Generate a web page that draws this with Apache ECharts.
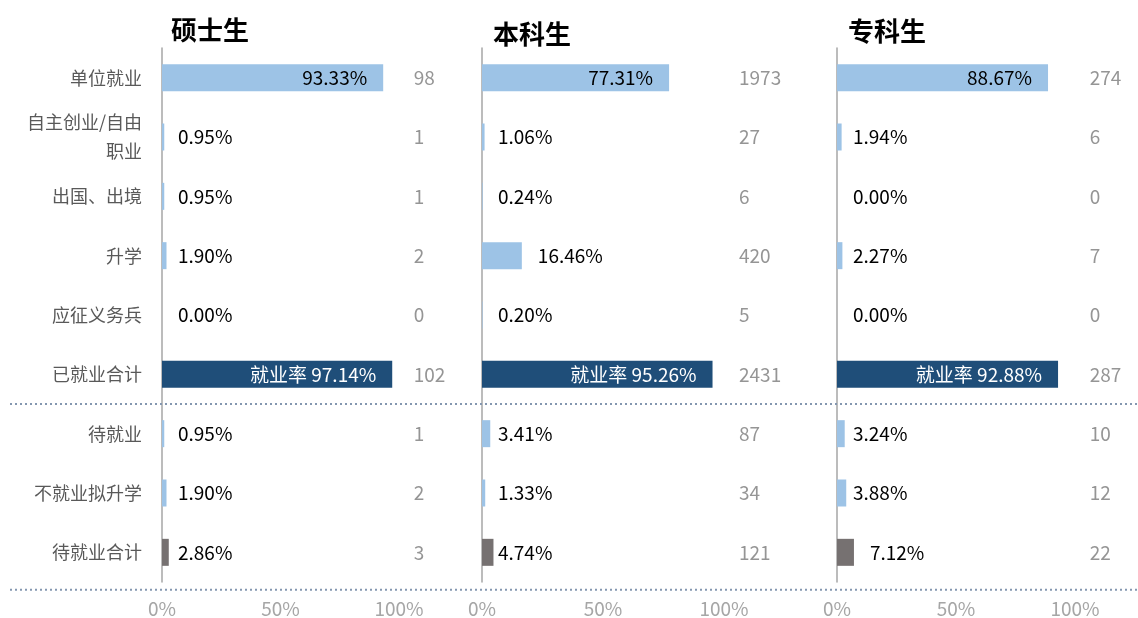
<!DOCTYPE html>
<html><head><meta charset="utf-8">
<script src="https://cdn.jsdelivr.net/npm/echarts@6/dist/echarts.min.js"></script>
<style>html,body{margin:0;padding:0;background:#fff}#c{width:1138px;height:618px}</style>
</head><body><div id="c"></div>
<script>
const categories = ['单位就业','自主创业/自由\n职业','出国、出境','升学','应征义务兵','已就业合计','待就业','不就业拟升学','待就业合计'];
const panelTitles = ['硕士生','本科生','专科生'];
const masterPct = [93.33,0.95,0.95,1.90,0.00,97.14,0.95,1.90,2.86];
const masterCnt = [98,1,1,2,0,102,1,2,3];
const bachelorPct = [77.31,1.06,0.24,16.46,0.20,95.26,3.41,1.33,4.74];
const bachelorCnt = [1973,27,6,420,5,2431,87,34,121];
const collegePct = [88.67,1.94,0.00,2.27,0.00,92.88,3.24,3.88,7.12];
const collegeCnt = [274,6,0,7,0,287,10,12,22];
const xTicks = [0,50,100];

const FONT = '"Noto Sans CJK SC","Noto Sans",sans-serif';
const LIGHT = '#9DC3E6', NAVY = '#1F4E79', GRAY = '#767171';
const panels = [
  {pct: masterPct, cnt: masterCnt, left: 162, scale: 2.37, titleLeft: 166, titleTop: 12},
  {pct: bachelorPct, cnt: bachelorCnt, left: 482, scale: 2.42, titleLeft: 488, titleTop: 16},
  {pct: collegePct, cnt: collegeCnt, left: 837, scale: 2.38, titleLeft: 843, titleTop: 13}
];
const XMAX = 120, COUNT_X = 106;
const TOTAL_ROW = 5, PENDING_TOTAL_ROW = 8;

const grids = [], xAxes = [], yAxes = [], series = [], titles = [];
panels.forEach((p, k) => {
  grids.push({left: p.left, top: 48, width: XMAX * p.scale, height: 534, containLabel: false});
  titles.push({text: panelTitles[k], left: p.titleLeft, top: p.titleTop,
    textStyle: {fontFamily: FONT, fontSize: 26, fontWeight: 'bold', color: '#000'}});
  xAxes.push({gridIndex: k, type: 'value', min: 0, max: XMAX, interval: 50,
    axisLine: {show: false}, axisTick: {show: false}, splitLine: {show: false},
    axisLabel: {margin: 17, color: '#a6a6a6', fontFamily: FONT, fontSize: 19,
      formatter: v => xTicks.includes(v) ? v + '%' : ''}});
  yAxes.push({gridIndex: k, type: 'category', data: categories, inverse: true,
    axisLine: {show: true, lineStyle: {color: '#a6a6a6', width: 1.5}}, axisTick: {show: false},
    axisLabel: {show: k === 0, margin: 20, color: '#595959', fontFamily: FONT, fontSize: 18, lineHeight: 29}});
  const data = p.pct.map((v, i) => {
    const color = i === TOTAL_ROW ? NAVY : (i === PENDING_TOTAL_ROW ? GRAY : LIGHT);
    let label;
    if (i === TOTAL_ROW) {
      label = {position: 'insideRight', distance: 16, color: '#fff', formatter: '就业率 ' + v.toFixed(2) + '%'};
    } else if (v > 50) {
      label = {position: 'insideRight', distance: 16, color: '#000'};
    } else if (v < 5) {
      label = {position: [16, '50%'], align: 'left', verticalAlign: 'middle', color: '#000'};
    } else {
      label = {position: 'right', distance: 16, color: '#000'};
    }
    return {value: v, itemStyle: {color}, label};
  });
  series.push({type: 'bar', xAxisIndex: k, yAxisIndex: k, barWidth: 27, data,
    label: {show: true, fontFamily: FONT, fontSize: 19, formatter: d => d.value.toFixed(2) + '%'},
    silent: true, animation: false});
  series.push({type: 'scatter', xAxisIndex: k, yAxisIndex: k, symbolSize: 1,
    itemStyle: {color: 'rgba(0,0,0,0)'},
    data: p.cnt.map((c, i) => ({value: [COUNT_X, i], cnt: c})),
    label: {show: true, position: 'right', distance: 0, color: '#7a7a7a', fontFamily: FONT, fontSize: 19,
      formatter: d => String(d.data.cnt)},
    silent: true, animation: false});
});

const chart = echarts.init(document.getElementById('c'), null, {renderer: 'canvas'});
chart.setOption({animation: false, title: titles, grid: grids, xAxis: xAxes, yAxis: yAxes, series});

const y5 = chart.convertToPixel({xAxisIndex: 0, yAxisIndex: 0}, [0, 5])[1];
const y6 = chart.convertToPixel({xAxisIndex: 0, yAxisIndex: 0}, [0, 6])[1];
const y8 = chart.convertToPixel({xAxisIndex: 0, yAxisIndex: 0}, [0, 8])[1];
const step = y6 - y5;
const sepY = [(y5 + y6) / 2, y8 + step * 0.63];
chart.setOption({graphic: sepY.map(y => ({type: 'line', z: 10,
  shape: {x1: 10, y1: y, x2: 1138, y2: y},
  style: {stroke: '#8497b0', lineWidth: 2, lineDash: [2, 3]}}))});
</script></body></html>
